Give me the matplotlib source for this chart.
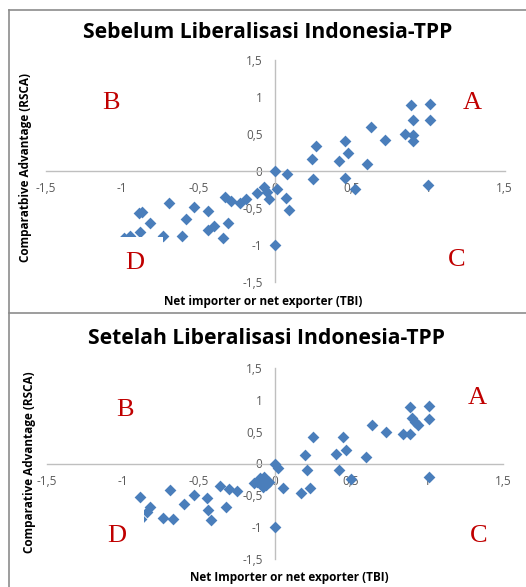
import matplotlib.pyplot as plt
from matplotlib.patches import Rectangle
from matplotlib.lines import Line2D
from matplotlib.ticker import FuncFormatter

# data (TBI, RSCA)
sebelum_tbi = [0.89, 1.01, 0.90, 1.01, 0.63, 0.72, 0.85, 0.90, 0.90, 0.46,
               0.27, 0.48, 0.24, 0.42, 0.60, 0.00, 0.08, 0.25, 0.46, 1.00,
               0.52, 0.01, 0.07, 0.09, 0.00, -0.04, -0.05, -0.07, -0.12, -0.19,
               -0.23, -0.29, -0.33, -0.31, -0.40, -0.44, -0.34, -0.44, -0.53, -0.58,
               -0.61, -0.69, -0.73, -0.82, -0.87, -0.89, -0.88, -0.95, -0.99]
sebelum_rsca = [0.89, 0.91, 0.69, 0.69, 0.59, 0.42, 0.50, 0.48, 0.41, 0.41,
                0.34, 0.24, 0.16, 0.14, 0.10, 0.00, -0.04, -0.11, -0.09, -0.19,
                -0.24, -0.25, -0.37, -0.53, -1.00, -0.38, -0.28, -0.22, -0.30, -0.38,
                -0.43, -0.41, -0.35, -0.70, -0.74, -0.80, -0.91, -0.54, -0.49, -0.65,
                -0.88, -0.43, -0.88, -0.70, -0.55, -0.57, -0.82, -0.88, -0.90]

setelah_tbi = [0.89, 1.01, 0.90, 1.01, 0.92, 0.94, 0.64, 0.73, 0.84, 0.89,
               0.25, 0.45, 0.47, 0.40, 0.20, 0.60, 0.00, 0.02, 0.21, 0.42,
               1.01, 0.50, 0.05, 0.17, 0.23, 0.00, -0.08, -0.10, -0.07, -0.12,
               -0.14, -0.04, -0.06, -0.25, -0.30, -0.36, -0.45, -0.53, -0.60, -0.69,
               -0.32, -0.44, -0.42, -0.67, -0.74, -0.82, -0.84, -0.89, -0.88]
setelah_rsca = [0.89, 0.91, 0.71, 0.70, 0.65, 0.60, 0.60, 0.50, 0.46, 0.46,
                0.41, 0.41, 0.21, 0.15, 0.13, 0.11, 0.00, -0.07, -0.11, -0.11,
                -0.22, -0.25, -0.38, -0.46, -0.39, -1.00, -0.37, -0.23, -0.21, -0.29,
                -0.31, -0.29, -0.34, -0.44, -0.40, -0.35, -0.55, -0.49, -0.64, -0.42,
                -0.69, -0.74, -0.89, -0.87, -0.86, -0.69, -0.76, -0.53, -0.88]

ticks = [-1.5, -1, -0.5, 0, 0.5, 1, 1.5]
BLUE = '#4a7ebb'
RED = '#c00000'
GREY = '#595959'

W, H = 526, 587
fx = lambda px: px / W
fy = lambda py: 1 - py / H


def fmt(v, pos):
    s = ('%g' % v).replace('.', ',')
    return s


def draw(ax, tbi, rsca, mask, letters):
    ax.scatter(tbi, rsca, marker='D', s=36, color=BLUE, linewidths=0, zorder=3)
    ax.set_xlim(-1.5, 1.5)
    ax.set_ylim(-1.5, 1.5)
    for s in ['top', 'right']:
        ax.spines[s].set_visible(False)
    for s in ['left', 'bottom']:
        ax.spines[s].set_position(('data', 0))
        ax.spines[s].set_color('#bfbfbf')
        ax.spines[s].set_linewidth(1)
    ax.set_xticks(ticks)
    ax.set_yticks(ticks)
    ax.xaxis.set_major_formatter(FuncFormatter(fmt))
    ax.yaxis.set_major_formatter(FuncFormatter(fmt))
    ax.tick_params(length=0, labelsize=8.5, labelcolor=GREY)
    ax.tick_params(axis='x', pad=8)
    ax.tick_params(axis='y', pad=9)
    for lab in ax.get_xticklabels() + ax.get_yticklabels():
        lab.set_family('Open Sans')
    ax.patch.set_alpha(0)
    # white box behind the "D" label that hides some markers
    ax.add_patch(Rectangle((mask[0], mask[1]), mask[2], mask[3],
                           facecolor='white', edgecolor='none', zorder=4))
    for t, x, y in letters:
        ax.text(x, y, t, color=RED, fontsize=19, family='Liberation Serif',
                ha='center', va='center', zorder=5)


fig = plt.figure(figsize=(5.26, 5.87), dpi=100)

# panel frames
for seg in [([8.5, 8.5], [10, 587]), ([8.5, 526], [10, 10]), ([8.5, 526], [313, 313])]:
    fig.add_artist(Line2D([fx(p) for p in seg[0]], [fy(p) for p in seg[1]],
                          color='#8c8c8c', lw=1.2))

ax1 = fig.add_axes([fx(45.5), fy(282), fx(459), 222 / H])
draw(ax1, sebelum_tbi, sebelum_rsca, (-1.3, -1.5, 0.57, 0.61),
     [('B', -1.07, 0.92), ('A', 1.29, 0.92), ('D', -0.92, -1.24), ('C', 1.19, -1.20)])

ax2 = fig.add_axes([fx(47), fy(558.75), fx(456), 190.5 / H])
draw(ax2, setelah_tbi, setelah_rsca, (-1.3, -1.5, 0.44, 0.85),
     [('B', -0.99, 0.84), ('A', 1.33, 1.03), ('D', -1.04, -1.14), ('C', 1.34, -1.14)])

tkw = dict(fontsize=15.2, fontweight='bold', family='Open Sans', ha='center', va='center')
fig.text(fx(268), fy(33), 'Sebelum Liberalisasi Indonesia-TPP', **tkw)
fig.text(fx(267), fy(338), 'Setelah Liberalisasi Indonesia-TPP', **tkw)

lkw = dict(fontsize=8.5, fontweight='bold', family='Open Sans', ha='center', va='center')
fig.text(fx(263), fy(302), 'Net importer or net exporter (TBI)', **lkw)
fig.text(fx(289), fy(577), 'Net Importer or net exporter (TBI)', **lkw)
fig.text(fx(26), fy(168), 'Comparatbive Advantage (RSCA)', rotation=90, **lkw)
fig.text(fx(30), fy(462), 'Comparative Advantage (RSCA)', rotation=90, **lkw)

fig.savefig('out.png', dpi=100)
